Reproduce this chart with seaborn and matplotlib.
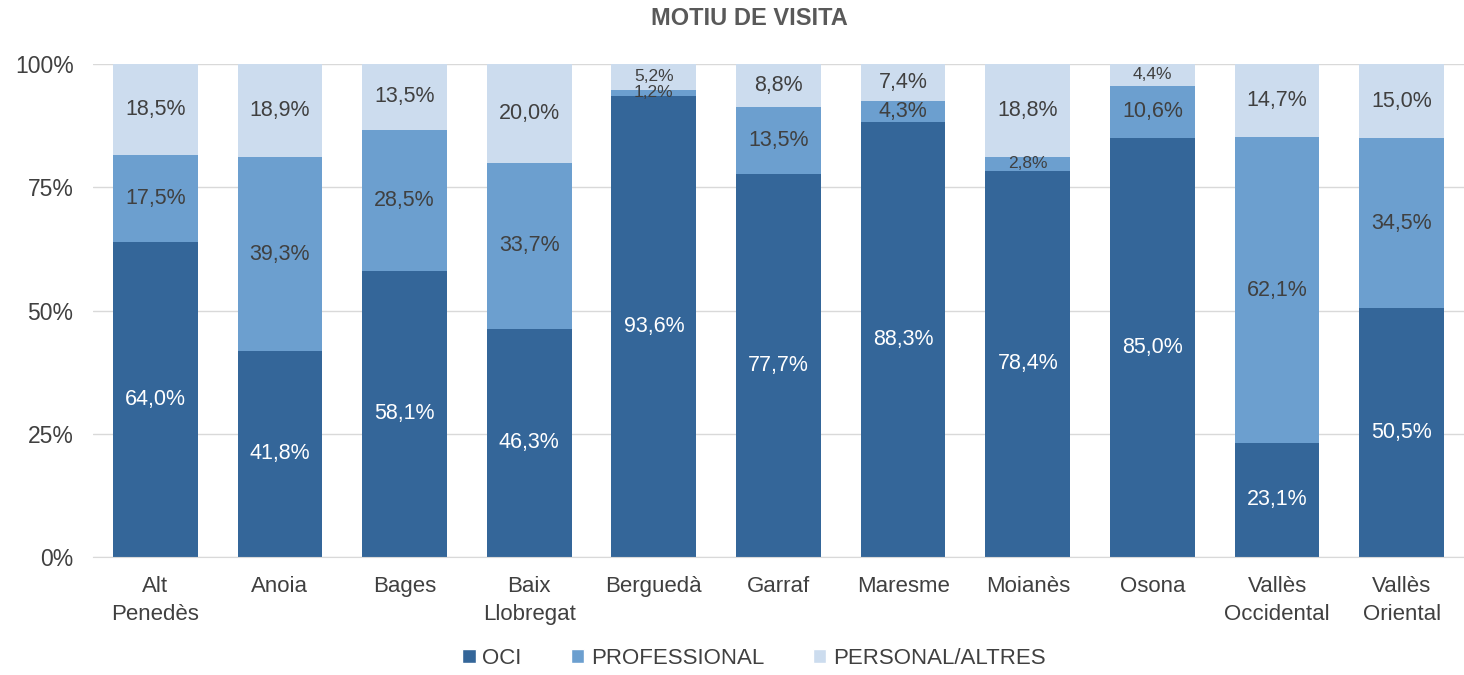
import matplotlib
matplotlib.use("Agg")
import matplotlib.pyplot as plt
import seaborn as sns
import pandas as pd
from matplotlib.patches import Patch

comarques = ["Alt\nPenedès", "Anoia", "Bages", "Baix\nLlobregat", "Berguedà", "Garraf",
             "Maresme", "Moianès", "Osona", "Vallès\nOccidental", "Vallès\nOriental"]
oci = [64.0, 41.8, 58.1, 46.3, 93.6, 77.7, 88.3, 78.4, 85.0, 23.1, 50.5]
professional = [17.5, 39.3, 28.5, 33.7, 1.2, 13.5, 4.3, 2.8, 10.6, 62.1, 34.5]
personal = [18.5, 18.9, 13.5, 20.0, 5.2, 8.8, 7.4, 18.8, 4.4, 14.7, 15.0]

series = ["OCI", "PROFESSIONAL", "PERSONAL/ALTRES"]
colors = ["#346699", "#6c9fcf", "#ccdcee"]
text_colors = ["white", "#404040", "#404040"]

sns.set_style("white")
plt.rcParams["font.family"] = ["Liberation Sans", "DejaVu Sans"]

df = pd.DataFrame({"comarca": comarques, "OCI": oci,
                   "PROFESSIONAL": professional, "PERSONAL/ALTRES": personal})
df["c1"] = df["OCI"]
df["c2"] = df["c1"] + df["PROFESSIONAL"]
df["c3"] = 100.0

fig = plt.figure(figsize=(14.64, 6.75), dpi=100)
ax = fig.add_axes([0.0635, 0.175, 0.9365, 0.73])

ax.yaxis.grid(True, color="#d9d9d9", linewidth=1)
ax.set_axisbelow(True)

# stacked bars: draw cumulative totals from top to bottom
for col, c in zip(["c3", "c2", "c1"], colors[::-1]):
    sns.barplot(data=df, x="comarca", y=col, color=c, width=0.68,
                saturation=1, linewidth=0, ax=ax, zorder=2)

# segment labels
for i in range(len(comarques)):
    base = 0
    for s, tc in zip(series, text_colors):
        v = df.loc[i, s]
        small = v < 5.3 and not (s == "PROFESSIONAL" and v > 4)
        fs = 12.5 if small else 15.5
        ax.text(i, base + v / 2, f"{v:.1f}%".replace(".", ","),
                ha="center", va="center", fontsize=fs, color=tc, zorder=3)
        base += v

ax.set_ylim(0, 100)
ax.set_xlim(-0.5, len(comarques) - 0.5)
ax.set_yticks([0, 25, 50, 75, 100])
ax.set_yticklabels(["0%", "25%", "50%", "75%", "100%"])
ax.set_xlabel("")
ax.set_ylabel("")
ax.tick_params(axis="both", length=0, labelsize=16, colors="#404040")
ax.tick_params(axis="y", pad=14, labelsize=16.5)
ax.tick_params(axis="x", pad=14)
for lab in ax.get_xticklabels():
    lab.set_linespacing(1.4)
for sp in ["top", "right", "left"]:
    ax.spines[sp].set_visible(False)
ax.spines["bottom"].set_color("#d9d9d9")

fig.suptitle("MOTIU DE VISITA", fontsize=17, fontweight="bold", color="#595959",
             x=0.512, y=0.99)

handles = [Patch(facecolor=c, label=s) for s, c in zip(series, colors)]
fig.legend(handles=handles, loc="lower center", ncol=3, frameon=False,
           fontsize=16, bbox_to_anchor=(0.515, -0.02), handlelength=0.6,
           handleheight=0.6, handletextpad=0.3, columnspacing=2.2,
           labelcolor="#404040")

fig.savefig("out.png", dpi=100)
